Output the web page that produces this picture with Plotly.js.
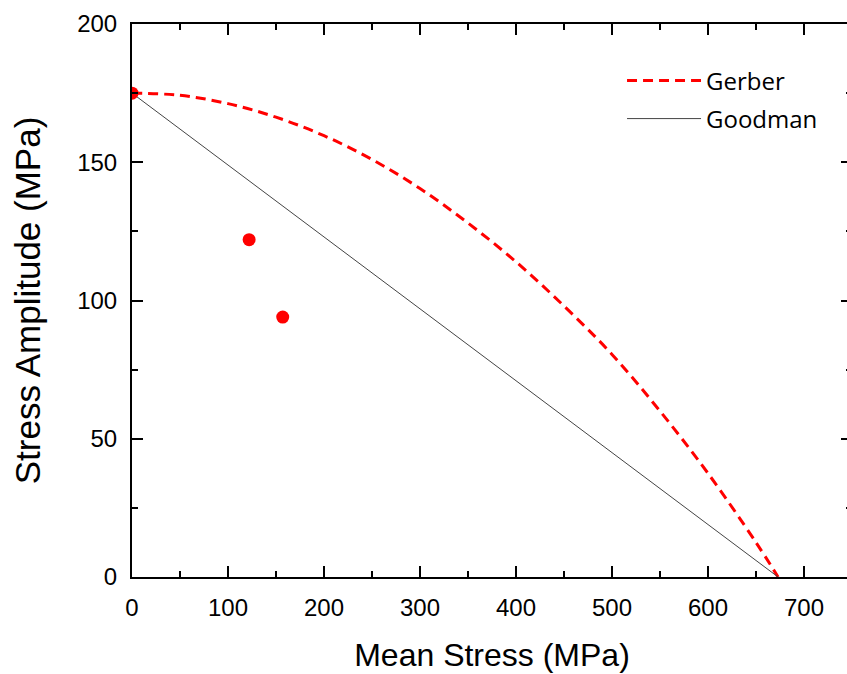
<!DOCTYPE html>
<html>
<head>
<meta charset="utf-8">
<script src="https://cdn.plot.ly/plotly-3.0.1.min.js"></script>
<style>
html,body{margin:0;padding:0;overflow:hidden;background:#fff;width:847px;height:674px;}
#chart{width:870px;height:674px;}
</style>
</head>
<body>
<div id="chart"></div>
<script>
// Gerber curve
const gerberX = [0, 50, 100, 150, 200, 250, 300, 350, 400, 450, 500, 550, 600, 650, 673];
const gerberY = [175, 174.2, 171.2, 166.3, 159.6, 151, 140.5, 128, 114, 98, 80.5, 60, 37.5, 12.5, 0];
// Goodman line
const goodmanX = [0, 673];
const goodmanY = [175, 0];
// Experimental points
const pointsX = [0, 122, 157];
const pointsY = [175, 122, 94];

const traces = [
  {x: gerberX, y: gerberY, mode: 'lines', name: 'Gerber', legendgroup: 'g1',
   line: {color: '#ff0000', width: 3, dash: '10px,6px', shape: 'spline'}},
  {x: goodmanX, y: goodmanY, mode: 'lines', name: 'Goodman', legendgroup: 'g2',
   line: {color: '#444444', width: 1}},
  {x: pointsX, y: pointsY, mode: 'markers', name: 'Data', showlegend: false,
   marker: {color: '#ff0000', size: 13}}
];

const axisCommon = {
  showgrid: false, zeroline: false, showline: true, linecolor: '#000', linewidth: 2,
  mirror: 'allticks', ticks: 'inside', ticklen: 11, tickwidth: 2, tickcolor: '#000',
  tickfont: {family: 'Liberation Sans, Arial', size: 24, color: '#000'}
};

const layout = {
  width: 870, height: 674,
  margin: {l: 132, r: 18, t: 24, b: 97},
  paper_bgcolor: '#fff', plot_bgcolor: '#fff',
  showlegend: true,
  legend: {x: 0.6806, y: 0.938, xanchor: 'left', yanchor: 'top', bgcolor: 'rgba(0,0,0,0)',
           itemwidth: 74, tracegroupgap: 4,
           font: {family: 'Open Sans', size: 24, color: '#000'}},
  xaxis: Object.assign({}, axisCommon, {
    range: [0, 750], dtick: 100, tick0: 0,
    minor: {dtick: 50, ticks: 'inside', ticklen: 6, tickwidth: 2, tickcolor: '#000'},
    ticklabelstandoff: 8,
    title: {text: 'Mean Stress (MPa)', font: {family: 'Liberation Sans, Arial', size: 32, color: '#000'}, standoff: 24}
  }),
  yaxis: Object.assign({}, axisCommon, {
    range: [0, 200], dtick: 50, tick0: 0,
    minor: {dtick: 25, ticks: 'inside', ticklen: 6, tickwidth: 2, tickcolor: '#000'},
    ticklabelstandoff: 8,
    title: {text: 'Stress Amplitude (MPa)', font: {family: 'Liberation Sans, Arial', size: 35, color: '#000'}, standoff: 26}
  })
};

Plotly.newPlot('chart', traces, layout, {displayModeBar: false, staticPlot: true});
</script>
</body>
</html>
